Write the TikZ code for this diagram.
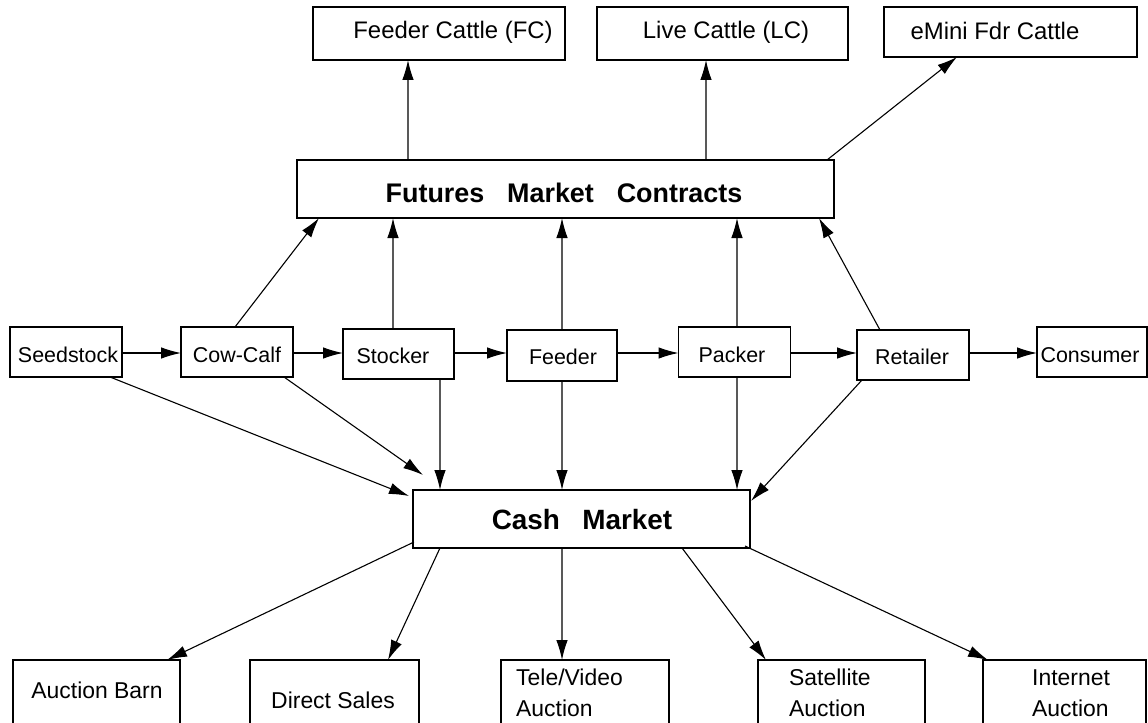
\documentclass[tikz,border=0pt]{standalone}
\usepackage{fontspec}
\setmainfont{Liberation Sans}
\usetikzlibrary{arrows.meta,calc}
\begin{document}
\begin{tikzpicture}[x=1bp,y=-1bp,
  box/.style={draw, line width=1.2bp, inner sep=0pt, outer sep=0pt},
  arr/.style={line width=1.1bp, -{Latex[length=20bp,width=11.5bp]}},
  toplbl/.style={font=\fontsize{24}{28}\selectfont, inner sep=0pt},
  midlbl/.style={font=\fontsize{21.5}{26}\selectfont, inner sep=0pt},
  botlbl/.style={font=\fontsize{23}{31}\selectfont, inner sep=0pt, align=left},
  headlbl/.style={font=\bfseries\fontsize{27}{32}\selectfont, inner sep=0pt}]
\useasboundingbox (0,0) rectangle (1148,723);
\fill[white] (0,0) rectangle (1148,723);
\clip (0,0) rectangle (1148,723);

% top boxes
\node[box, minimum width=252bp, minimum height=53bp] (fc) at (439,33.5) {};
\node[box, minimum width=251bp, minimum height=53bp] (lc) at (722.5,33.5) {};
\node[box, minimum width=253bp, minimum height=50bp] (em) at (1010.5,32) {};
\node[toplbl] (fct) at (453,32) {Feeder Cattle (FC)};
\node[toplbl] (lct) at (726,32) {Live Cattle (LC)};
\node[toplbl] (emt) at (995,31) {eMini Fdr Cattle};

% futures
\node[box, minimum width=537bp, minimum height=58bp] (fut) at (565.5,189) {};
\node[headlbl] (futt) at (564,193) {Futures\hspace{0.85em}Market\hspace{0.85em}Contracts};

% middle row
\node[box, minimum width=112bp, minimum height=50bp] (seed) at (66,352) {};
\node[box, minimum width=112bp, minimum height=50bp] (cow) at (237,352) {};
\node[box, minimum width=111bp, minimum height=50bp] (stk) at (398.5,354) {};
\node[box, minimum width=110bp, minimum height=51bp] (fdr) at (562,355.5) {};
\node[box, minimum width=112bp, minimum height=50bp] (pck) at (734.5,352) {};
\node[box, minimum width=112bp, minimum height=50bp] (ret) at (913,355) {};
\node[box, minimum width=110bp, minimum height=50bp] (con) at (1092,352) {};
\node[midlbl] (seedt) at (68,355) {Seedstock};
\node[midlbl] (cowt) at (237,355) {Cow-Calf};
\node[midlbl] (stkt) at (393,356) {Stocker};
\node[midlbl] (fdrt) at (563,357) {Feeder};
\node[midlbl] (pckt) at (732,355) {Packer};
\node[midlbl] (rett) at (912,357) {Retailer};
\node[midlbl] (cont) at (1090,355) {Consumer};

% cash
\node[box, minimum width=337bp, minimum height=58bp] (cash) at (581.5,519) {};
\node[headlbl, font=\bfseries\fontsize{28}{32}\selectfont] (casht) at (582,520) {Cash\hspace{0.8em}Market};

% bottom boxes
\node[box, minimum width=167bp, minimum height=90bp] (ab) at (96.5,705) {};
\node[box, minimum width=169bp, minimum height=90bp] (ds) at (334.5,705) {};
\node[box, minimum width=168bp, minimum height=90bp] (tv) at (585,705) {};
\node[box, minimum width=167bp, minimum height=90bp] (sat) at (841.5,705) {};
\node[box, minimum width=163bp, minimum height=90bp] (int) at (1064.5,705) {};
\node[botlbl] (abt) at (97,690) {Auction Barn};
\node[botlbl] (dst) at (333,700) {Direct Sales};
\node[botlbl, anchor=west] (tvt) at (516,692.5) {Tele/Video\\Auction};
\node[botlbl, anchor=west] (satt) at (789,693) {Satellite\\Auction};
\node[botlbl, anchor=west] (intt) at (1032,693) {Internet\\Auction};

% futures to contracts
\draw[arr] ($(fut.north west)+(111,0)$) -- ($(fc.south west)+(95,0)$);
\draw[arr] ($(fut.north west)+(409,0)$) -- ($(lc.south west)+(109,0)$);
\draw[arr] ($(fut.north east)+(-7,0)$) -- ($(em.south west)+(73,0)$);

% middle row to futures
\draw[arr] ($(cow.north west)+(54,0)$) -- ($(fut.south west)+(22,0)$);
\draw[arr] ($(stk.north west)+(50,0)$) -- ($(fut.south west)+(96,0)$);
\draw[arr] ($(fdr.north west)+(55,0)$) -- ($(fut.south west)+(265,0)$);
\draw[arr] ($(pck.north west)+(58.5,0)$) -- ($(fut.south west)+(440,0)$);
\draw[arr] ($(ret.north west)+(23,0)$) -- ($(fut.south west)+(522,0)$);

% chain
\draw[arr] ($(seed.north east)+(0,26)$) -- ($(cow.north west)+(0,26)$);
\draw[arr] ($(cow.north east)+(0,26)$) -- ($(stk.north west)+(0,24)$);
\draw[arr] ($(stk.north east)+(0,24)$) -- ($(fdr.north west)+(0,23)$);
\draw[arr] ($(fdr.north east)+(0,23)$) -- ($(pck.north west)+(0,26)$);
\draw[arr] ($(pck.north east)+(0,26)$) -- ($(ret.north west)+(0,23)$);
\draw[arr] ($(ret.north east)+(0,23)$) -- ($(con.north west)+(0,26)$);

% middle row to cash
\draw[arr] ($(seed.south east)+(-12,0)$) -- ($(cash.north west)+(-4,6)$);
\draw[arr] ($(cow.south west)+(103,0)$) -- ($(cash.north west)+(10,-15)$);
\draw[arr] ($(stk.south west)+(97,0)$) -- ($(cash.north west)+(27,0)$);
\draw[arr] ($(fdr.south west)+(55,0)$) -- ($(cash.north west)+(149,0)$);
\draw[arr] ($(pck.south west)+(58.5,0)$) -- ($(cash.north west)+(324,0)$);
\draw[arr] ($(ret.south west)+(5,0)$) -- ($(cash.north east)+(1,11)$);

% cash to outlets
\draw[arr] ($(cash.south west)+(1,-6)$) -- ($(ab.north west)+(154,0)$);
\draw[arr] ($(cash.south west)+(27,0)$) -- ($(ds.north west)+(138,0)$);
\draw[arr] ($(cash.south west)+(149,0)$) -- ($(tv.north west)+(61,0)$);
\draw[arr] ($(cash.south west)+(269,0)$) -- ($(sat.north west)+(8,0)$);
\draw[arr] ($(cash.south east)+(-5,-2)$) -- ($(int.north west)+(5,0)$);
\end{tikzpicture}
\end{document}
